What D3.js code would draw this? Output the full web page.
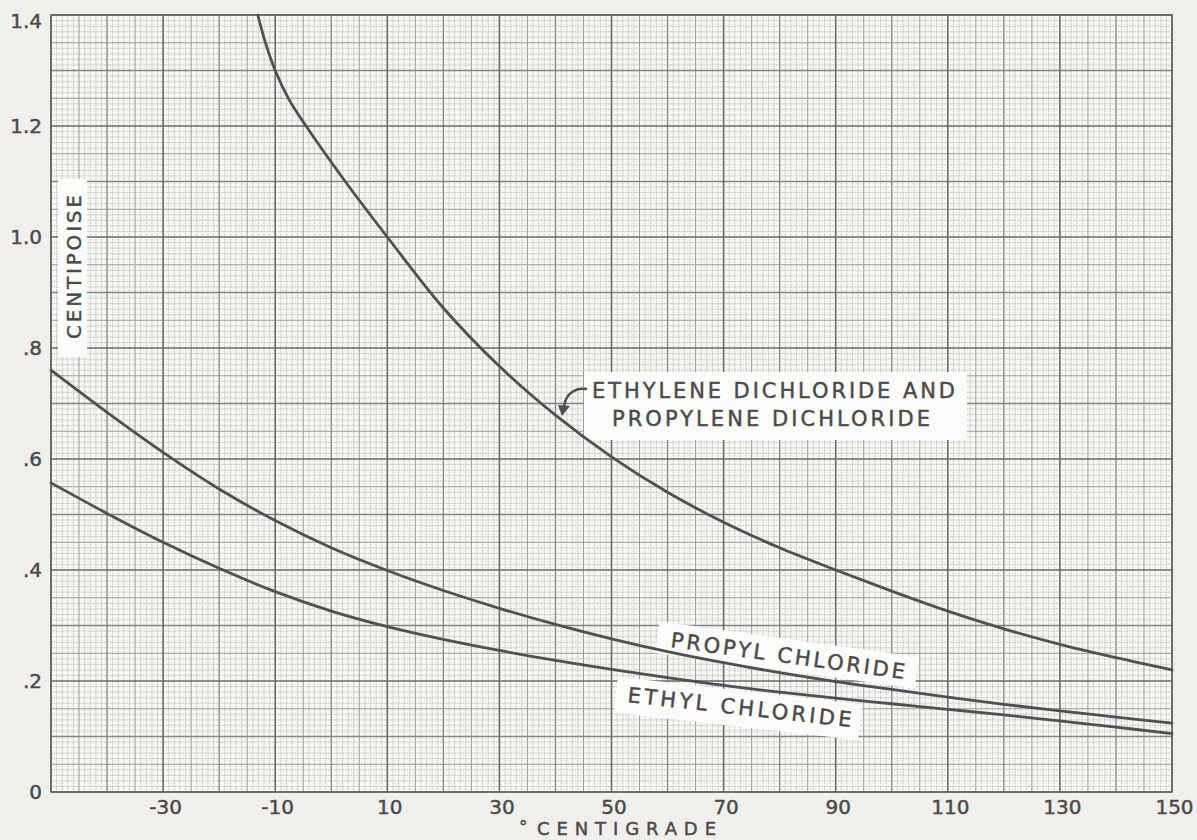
<!DOCTYPE html>
<html>
<head>
<meta charset="utf-8">
<script src="https://cdn.jsdelivr.net/npm/d3@7"></script>
<style>
  html, body { margin: 0; padding: 0; background: #f1efeb; }
  svg { display: block; }
  text { font-family: "DejaVu Sans", sans-serif; fill: #4a4a4a; stroke: #4a4a4a; stroke-width: 0.45px; }
</style>
</head>
<body>
<svg id="chart" width="1197" height="840"></svg>
<script>
// ---- data ----
const xTickLabels = [-30, -10, 10, 30, 50, 70, 90, 110, 130, 150];
const yTickValues = [0, 0.2, 0.4, 0.6, 0.8, 1.0, 1.2, 1.4];
const yTickLabels = ["0", ".2", ".4", ".6", ".8", "1.0", "1.2", "1.4"];

const dichlorideTemps  = [-13.1, -11.8, -10, -7.5, -4.5, 2.5, 10, 20, 30, 40, 50, 60, 70, 80, 90, 100, 110, 120, 130, 140, 150];
const dichlorideValues = [1.4, 1.352, 1.3, 1.247, 1.2, 1.1, 1.0, 0.872, 0.767, 0.679, 0.604, 0.54, 0.486, 0.44, 0.4, 0.362, 0.326, 0.294, 0.266, 0.242, 0.22];

const chlorideTemps    = [-50, -40, -30, -20, -10, 0, 10, 20, 30, 40, 50, 60, 70, 80, 90, 100, 110, 120, 130, 140, 150];
const propylValues     = [0.76, 0.684, 0.612, 0.546, 0.489, 0.44, 0.399, 0.363, 0.331, 0.302, 0.276, 0.253, 0.233, 0.215, 0.199, 0.185, 0.171, 0.158, 0.146, 0.135, 0.124];
const ethylValues      = [0.557, 0.502, 0.45, 0.403, 0.361, 0.326, 0.298, 0.275, 0.255, 0.237, 0.221, 0.206, 0.192, 0.18, 0.169, 0.159, 0.149, 0.139, 0.128, 0.117, 0.105];

const labelDichloride = ["ETHYLENE DICHLORIDE AND", "PROPYLENE DICHLORIDE"];
const labelPropyl = "PROPYL CHLORIDE";
const labelEthyl = "ETHYL CHLORIDE";
const labelY = "CENTIPOISE";
const labelXDegree = "°";
const labelX = "CENTIGRADE";

// ---- layout ----
const svg = d3.select("#chart");
const x = d3.scaleLinear().domain([-50, 150]).range([51, 1172]);
const y = d3.scaleLinear().domain([0, 1.4]).range([792, 15]);

// plot paper
svg.append("rect")
  .attr("x", x(-50)).attr("y", y(1.4))
  .attr("width", x(150) - x(-50)).attr("height", y(0) - y(1.4))
  .attr("fill", "#f7f6f3");

const grid = svg.append("g");
const styles = [
  {stroke: "#b9b9b7", w: 0.8},
  {stroke: "#9c9c9a", w: 1.0},
  {stroke: "#858583", w: 1.3},
  {stroke: "#6a6a68", w: 1.6}
];
const vLines = d3.range(-50, 151, 1).map(t => ({t, lv: ((t + 10) % 20 === 0) ? 3 : (t % 10 === 0 ? 2 : (t % 5 === 0 ? 1 : 0))}));
const hLines = d3.range(0, 141, 1).map(i => ({v: i / 100, lv: (i % 20 === 0) ? 3 : (i % 10 === 0 ? 2 : (i % 5 === 0 ? 1 : 0))}));

[0, 1, 2, 3].forEach(lv => {
  grid.selectAll(null).data(vLines.filter(d => d.lv === lv)).enter().append("line")
    .attr("x1", d => x(d.t)).attr("x2", d => x(d.t))
    .attr("y1", y(1.4)).attr("y2", y(0))
    .attr("stroke", styles[lv].stroke).attr("stroke-width", styles[lv].w)
    .attr("stroke-dasharray", lv === 0 ? "1.8,1" : null);
  grid.selectAll(null).data(hLines.filter(d => d.lv === lv)).enter().append("line")
    .attr("y1", d => y(d.v)).attr("y2", d => y(d.v))
    .attr("x1", x(-50)).attr("x2", x(150))
    .attr("stroke", styles[lv].stroke).attr("stroke-width", styles[lv].w)
    .attr("stroke-dasharray", lv === 0 ? "1.8,1" : null);
});
svg.append("rect")
  .attr("x", x(-50)).attr("y", y(1.4))
  .attr("width", x(150) - x(-50)).attr("height", y(0) - y(1.4))
  .attr("fill", "none").attr("stroke", "#666664").attr("stroke-width", 1.6);

// ---- axes (labels only) ----
const xAxis = d3.axisBottom(x).tickValues(xTickLabels).tickSize(0).tickPadding(8).tickFormat(d => String(d));
const gx = svg.append("g").attr("transform", `translate(0,${y(0)})`).call(xAxis);
gx.select(".domain").remove();
gx.selectAll("text").style("font-size", "20px").style("font-family", "DejaVu Sans, sans-serif").attr("fill", "#4a4a4a").attr("dx", "2");

const yAxis = d3.axisLeft(y).tickValues(yTickValues).tickSize(0).tickPadding(9)
  .tickFormat((d, i) => yTickLabels[i]);
const gy = svg.append("g").attr("transform", `translate(${x(-50)},0)`).call(yAxis);
gy.select(".domain").remove();
gy.selectAll("text").style("font-size", "20px").style("font-family", "DejaVu Sans, sans-serif").attr("fill", "#4a4a4a");
gy.selectAll(".tick").filter(d => d === 1.4).select("text").attr("dy", "0.62em");

svg.append("text").attr("x", 519).attr("y", 833).style("font-size", "17px").text(labelXDegree);
svg.append("text").attr("x", 537).attr("y", 835)
  .attr("textLength", 179).attr("lengthAdjust", "spacing")
  .style("font-size", "18px").text(labelX);

// ---- label backgrounds ----
const paper = "#fbfbfa";
svg.append("rect").attr("x", 58).attr("y", 179).attr("width", 29).attr("height", 178).attr("fill", paper);
svg.append("rect").attr("x", 584).attr("y", 372).attr("width", 383).attr("height", 68).attr("fill", paper);
const gp = svg.append("g").attr("transform", "translate(670,647) rotate(7.8)");
gp.append("rect").attr("x", -14).attr("y", -24).attr("width", 262).attr("height", 32).attr("fill", paper);
const ge = svg.append("g").attr("transform", "translate(627,702) rotate(6.4)");
ge.append("rect").attr("x", -12).attr("y", -24).attr("width", 246).attr("height", 36).attr("fill", paper);

// ---- curves ----
const line = d3.line().x(d => x(d[0])).y(d => y(d[1])).curve(d3.curveCatmullRom.alpha(0.5));
const curveG = svg.append("g").attr("fill", "none").attr("stroke", "#505050").attr("stroke-width", 2.8)
  .attr("stroke-linecap", "round");
curveG.append("path").attr("d", line(dichlorideTemps.map((t, i) => [t, dichlorideValues[i]])));
curveG.append("path").attr("d", line(chlorideTemps.map((t, i) => [t, propylValues[i]])));
curveG.append("path").attr("d", line(chlorideTemps.map((t, i) => [t, ethylValues[i]])));

// ---- label texts ----
svg.append("text").attr("transform", "translate(81,339) rotate(-90)")
  .attr("textLength", 144).attr("lengthAdjust", "spacing")
  .style("font-size", "20px").text(labelY);

svg.append("text").attr("x", 592).attr("y", 398).attr("textLength", 363).attr("lengthAdjust", "spacing")
  .style("font-size", "21px").text(labelDichloride[0]);
svg.append("text").attr("x", 612).attr("y", 426).attr("textLength", 318).attr("lengthAdjust", "spacing")
  .style("font-size", "21px").text(labelDichloride[1]);
// arrow
svg.append("path").attr("d", "M587,389 C574,387 565,395 564,407")
  .attr("fill", "none").attr("stroke", "#505050").attr("stroke-width", 2.4);
svg.append("path").attr("d", "M558,405 L570,406 L562,416 Z").attr("fill", "#505050");

gp.append("text").attr("x", 0).attr("y", 0).attr("textLength", 236).attr("lengthAdjust", "spacing")
  .style("font-size", "21px").text(labelPropyl);
ge.append("text").attr("x", 0).attr("y", 0).attr("textLength", 225).attr("lengthAdjust", "spacing")
  .style("font-size", "21px").text(labelEthyl);
</script>
</body>
</html>
